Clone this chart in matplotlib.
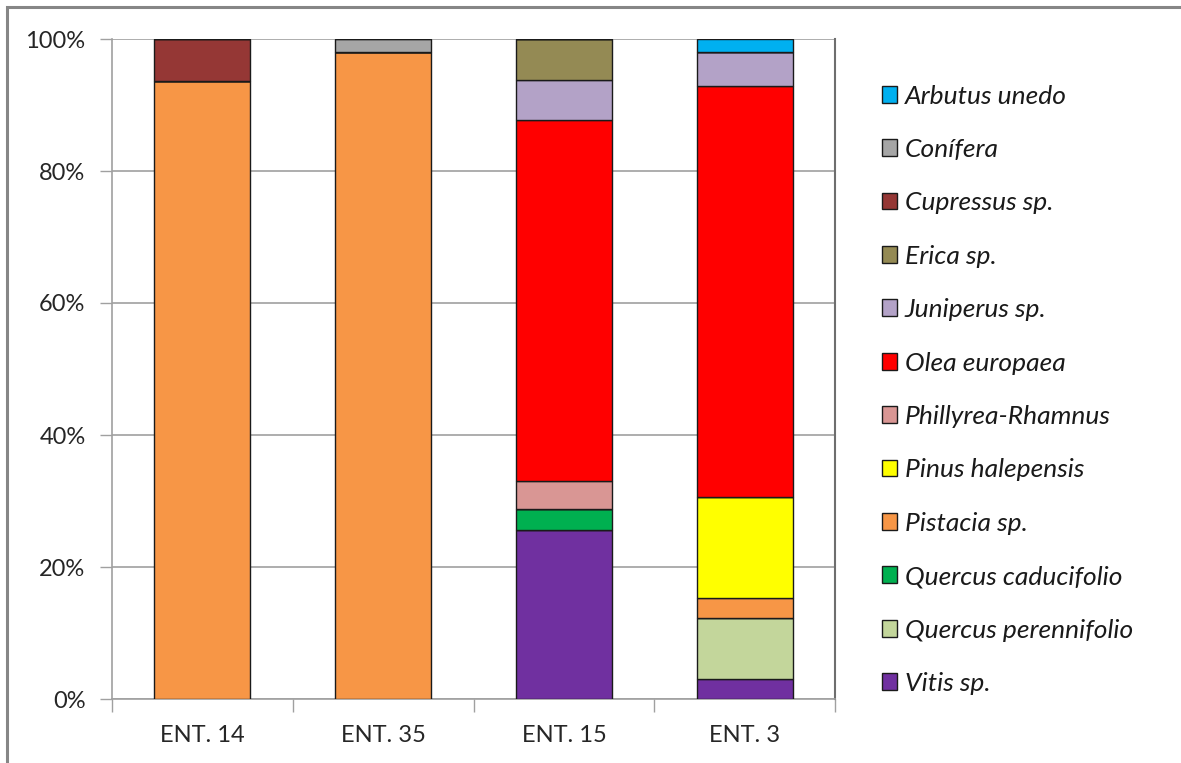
import matplotlib
matplotlib.use("Agg")
import matplotlib.pyplot as plt
from matplotlib.patches import Rectangle, Patch
from matplotlib.ticker import FixedLocator, FuncFormatter
import numpy as np

categories = ["ENT. 14", "ENT. 35", "ENT. 15", "ENT. 3"]

# stacking order: bottom to top
species = ["Vitis sp.", "Quercus perennifolio", "Quercus caducifolio", "Pistacia sp.",
           "Pinus halepensis", "Phillyrea-Rhamnus", "Olea europaea", "Juniperus sp.",
           "Erica sp.", "Cupressus sp.", "Conífera", "Arbutus unedo"]

vitis = [0, 0, 25.6, 3.0]
quercus_perennifolio = [0, 0, 0, 9.2]
quercus_caducifolio = [0, 0, 3.2, 0]
pistacia = [93.6, 98.0, 0, 3.1]
pinus = [0, 0, 0, 15.3]
phillyrea = [0, 0, 4.2, 0]
olea = [0, 0, 54.7, 62.3]
juniperus = [0, 0, 6.1, 5.1]
erica = [0, 0, 6.2, 0]
cupressus = [6.4, 0, 0, 0]
conifera = [0, 2.0, 0, 0]
arbutus = [0, 0, 0, 2.0]

series = [vitis, quercus_perennifolio, quercus_caducifolio, pistacia, pinus, phillyrea,
          olea, juniperus, erica, cupressus, conifera, arbutus]

colors = ["#7030A0", "#C3D69B", "#00B050", "#F79646", "#FFFF00", "#D99694",
          "#FF0000", "#B3A2C7", "#948A54", "#953735", "#A6A6A6", "#00B0F0"]

plt.rcParams['font.family'] = ['Lato', 'DejaVu Sans']

W, H = 1181, 763
fig = plt.figure(figsize=(W / 100, H / 100), dpi=100)
# outer chart border
fig.patches.append(Rectangle((7 / W, -0.05), 1.2, 1 - 7.5 / H + 0.05, transform=fig.transFigure,
                             fill=False, edgecolor="#868686", linewidth=2.2, zorder=0))

ax = fig.add_axes([112 / W, 1 - 699 / H, (835 - 112) / W, (699 - 39) / H])

x = np.arange(len(categories))
bottom = np.zeros(len(categories))
for name, vals, col in zip(species, series, colors):
    v = np.array(vals, dtype=float)
    ax.bar(x, v, bottom=bottom, width=0.53, color=col, edgecolor="#1a1a1a",
           linewidth=1.0, zorder=3)
    bottom += v

ax.set_xlim(-0.5, 3.5)
ax.set_ylim(0, 100)
ax.set_yticks(np.arange(0, 101, 20))
ax.yaxis.set_major_formatter(FuncFormatter(lambda v, p: f"{int(v)}%"))
ax.set_xticks(x)
ax.set_xticklabels(categories)
ax.xaxis.set_minor_locator(FixedLocator([-0.5, 0.5, 1.5, 2.5, 3.5]))
ax.tick_params(axis='x', which='major', length=0, pad=19, labelsize=17, labelcolor="#262626")
ax.tick_params(axis='x', which='minor', length=9, width=1, color="#A0A0A0", direction='out')
ax.tick_params(axis='y', which='major', length=9, width=1, color="#A0A0A0", pad=10,
               labelsize=17, labelcolor="#262626")
ax.grid(axis='y', color="#A0A0A0", linewidth=1.2, zorder=0)
ax.set_axisbelow(True)
for s in ["left", "bottom"]:
    ax.spines[s].set_color("#A0A0A0")
    ax.spines[s].set_linewidth(1.2)
ax.spines["top"].set_visible(False)
ax.spines["right"].set_color("#6E6E6E")
ax.spines["right"].set_linewidth(1.5)

handles = [Patch(facecolor=c, edgecolor="#1a1a1a", linewidth=1.0) for c in colors[::-1]]
leg = fig.legend(handles, species[::-1], loc="upper left", bbox_to_anchor=(871 / W, 1 - 74 / H),
                 frameon=False, prop={'style': 'italic', 'size': 19},
                 handlelength=0.6, handleheight=0.6, handletextpad=0.28,
                 labelspacing=1.152, borderaxespad=0)
for t in leg.get_texts():
    t.set_color("#1a1a1a")

fig.savefig("out.png", dpi=100)
